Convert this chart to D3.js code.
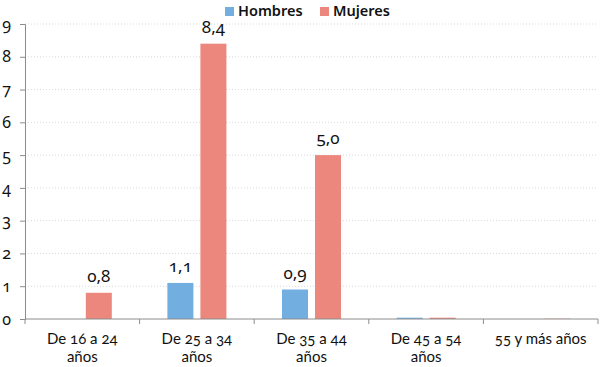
<!DOCTYPE html>
<html>
<head>
<meta charset="utf-8">
<script src="https://cdn.jsdelivr.net/npm/d3@7"></script>
<style>
  body { margin: 0; background: #fff; }
  svg text { font-family: "Noto Sans", "Open Sans", sans-serif; font-variant-numeric: oldstyle-nums; font-feature-settings: "onum"; }
  svg text.xlab { font-family: Lato, "Noto Sans", sans-serif; }
</style>
</head>
<body>
<div id="chart"></div>
<script>
// DATA
var categories = ["De 16 a 24|años", "De 25 a 34|años", "De 35 a 44|años", "De 45 a 54|años", "55 y más años"];
var hombres = [0, 1.1, 0.9, 0.04, 0];
var mujeres = [0.8, 8.4, 5.0, 0.04, 0.01];
var seriesNames = ["Hombres", "Mujeres"];
var yTicks = [0, 1, 2, 3, 4, 5, 6, 7, 8, 9];
var colors = ["#72aee0", "#ec877e"];

var width = 600, height = 367;
var margin = { top: 24, right: 2, bottom: 48, left: 25 };
var w = width - margin.left - margin.right,
  h = height - margin.top - margin.bottom;

var svg = d3.select("#chart").append("svg")
  .attr("width", width).attr("height", height);
var g = svg.append("g")
  .attr("transform", "translate(" + margin.left + "," + margin.top + ")");

var x = d3.scaleBand().domain(d3.range(categories.length)).range([0, w]);
var y = d3.scaleLinear().domain([0, 9]).range([h, 0]);

// GRIDLINES
g.selectAll(".grid").data(yTicks.slice(1)).join("line")
  .attr("x1", 0).attr("x2", w)
  .attr("y1", d => y(d)).attr("y2", d => y(d))
  .attr("stroke", "#d9d9d9").attr("stroke-dasharray", "1,2");

// BARS
var barW = x.bandwidth() * 0.227, gap = 7;
var data = [];
categories.forEach(function (c, i) {
  data.push({ i: i, s: 0, v: hombres[i] });
  data.push({ i: i, s: 1, v: mujeres[i] });
});
g.selectAll(".bar").data(data).join("rect")
  .attr("x", d => x(d.i) + x.bandwidth() / 2 + (d.s === 0 ? -gap / 2 - barW : gap / 2))
  .attr("y", d => y(d.v))
  .attr("width", barW)
  .attr("height", d => h - y(d.v))
  .attr("fill", d => colors[d.s]);

// DATA LABELS
g.selectAll(".lbl").data(data.filter(d => d.v >= 0.5)).join("text")
  .attr("x", d => x(d.i) + x.bandwidth() / 2 + (d.s === 0 ? -gap / 2 - barW / 2 : gap / 2 + barW / 2))
  .attr("y", d => y(d.v) - 11)
  .attr("text-anchor", "middle")
  .attr("font-size", 17)
  .attr("fill", "#111")
  .text(d => d3.format(".1f")(d.v).replace(".", ","));

// Y AXIS
var yAxis = g.append("g")
  .call(d3.axisLeft(y).tickValues(yTicks).tickSize(5).tickPadding(9).tickFormat(d3.format("d")));
yAxis.select(".domain").attr("stroke", "#8c8c8c");
yAxis.selectAll(".tick line").attr("stroke", "#8c8c8c");
yAxis.selectAll("text").attr("font-size", 16).attr("fill", "#111");

// X AXIS
var xb = g.append("g").attr("transform", "translate(0," + h + ")");
xb.append("line").attr("x1", 0).attr("x2", w).attr("stroke", "#8c8c8c");
xb.selectAll(".xt").data(d3.range(categories.length + 1)).join("line")
  .attr("x1", d => d * x.step()).attr("x2", d => d * x.step())
  .attr("y1", 0).attr("y2", 5).attr("stroke", "#8c8c8c");
categories.forEach(function (c, i) {
  c.split("|").forEach(function (p, k) {
    xb.append("text")
      .attr("class", "xlab")
      .attr("x", x(i) + x.bandwidth() / 2)
      .attr("y", 25 + k * 18)
      .attr("text-anchor", "middle")
      .attr("font-size", 15)
      .attr("fill", "#111")
      .text(p);
  });
});

// LEGEND
var legend = svg.append("g").attr("transform", "translate(225,0)");
var lx = [0, 95];
seriesNames.forEach(function (s, i) {
  legend.append("rect").attr("x", lx[i]).attr("y", 7).attr("width", 9).attr("height", 9).attr("fill", colors[i]);
  legend.append("text").attr("x", lx[i] + 13).attr("y", 16)
    .attr("font-size", 14.5).attr("font-weight", 600).attr("fill", "#111").text(s);
});
</script>
</body>
</html>
